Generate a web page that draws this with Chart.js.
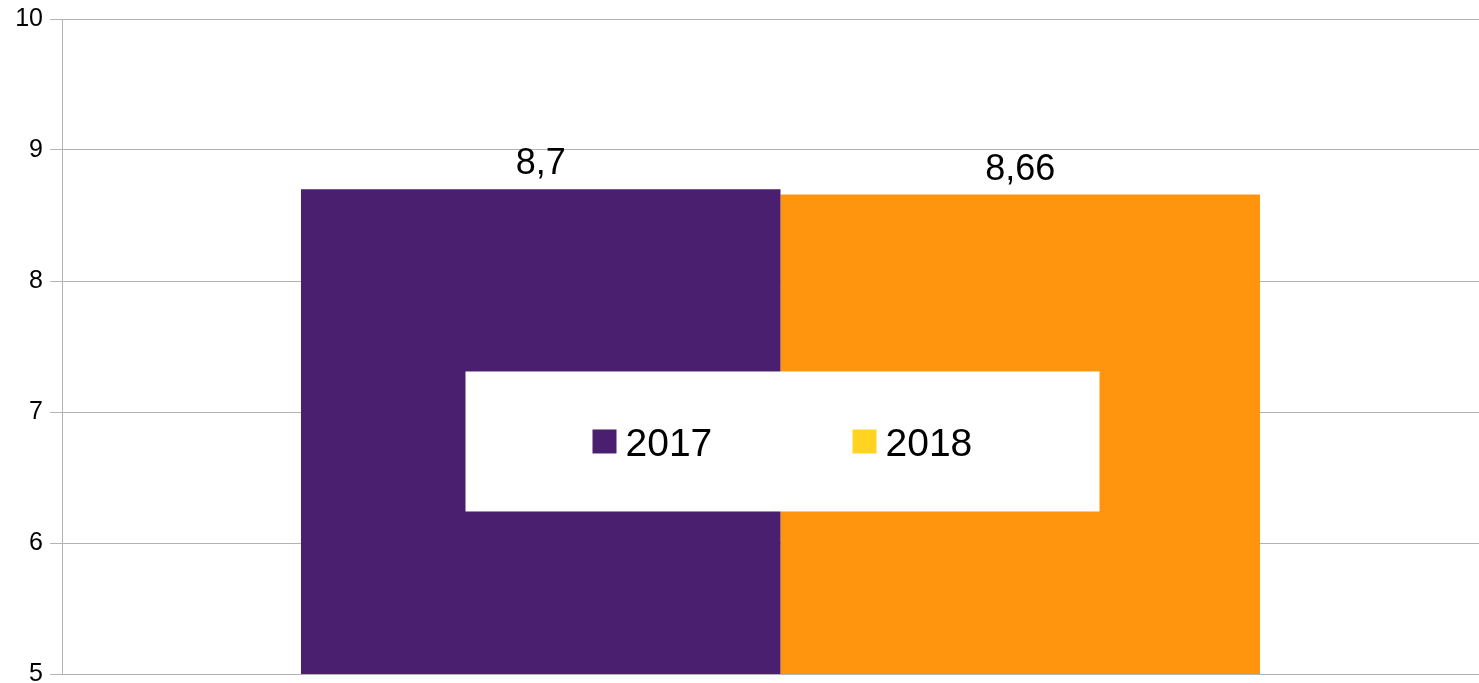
<!DOCTYPE html>
<html>
<head>
<meta charset="utf-8">
<script src="https://cdn.jsdelivr.net/npm/chart.js@4/dist/chart.umd.min.js"></script>
<style>
  html, body { margin: 0; padding: 0; background: #fff; overflow: hidden; }
  #wrap { width: 1479px; height: 683px; overflow: hidden; position: relative; }
  #canvas-1 { display: block; margin-top: -3px; }
</style>
</head>
<body>
<div id="wrap"><canvas id="canvas-1" width="1499" height="699"></canvas></div>
<script>
const categories = [""];
const seriesNames = ["2017", "2018"];
const values2017 = [8.7];
const values2018 = [8.66];
const yTicks = [5, 6, 7, 8, 9, 10];

const barColors = ["#4b1f6f", "#ff950e"];
const legendColors = ["#4b1f6f", "#ffd320"];
const fontFamily = "'Liberation Sans', Arial, sans-serif";

const canvas1 = document.querySelector("#canvas-1");
const ctx1 = canvas1.getContext("2d");

// value labels above the bars, comma decimals
const valueLabels = {
  id: "valueLabels",
  afterDatasetsDraw(chart) {
    const ctx = chart.ctx;
    ctx.save();
    ctx.font = "36px " + fontFamily;
    ctx.fillStyle = "#000";
    ctx.textAlign = "center";
    ctx.textBaseline = "alphabetic";
    chart.data.datasets.forEach((ds, i) => {
      chart.getDatasetMeta(i).data.forEach((bar, j) => {
        const txt = String(ds.data[j]).replace(".", ",");
        ctx.fillText(txt, bar.x, bar.y - 15);
      });
    });
    ctx.restore();
  },
};

// legend box placed inside the plot
const boxLegend = {
  id: "boxLegend",
  afterDraw(chart) {
    const ctx = chart.ctx;
    const area = chart.chartArea;
    const cx = (area.left + area.right) / 2 + 2;
    const cy = area.top + (area.bottom - area.top) * 0.645;
    const w = 634, h = 140;
    const x0 = cx - w / 2, y0 = cy - h / 2;
    ctx.save();
    ctx.fillStyle = "#fff";
    ctx.fillRect(x0, y0, w, h);
    ctx.font = "39px " + fontFamily;
    ctx.textBaseline = "alphabetic";
    ctx.textAlign = "left";
    const itemX = [x0 + 127, x0 + 387];
    seriesNames.forEach((name, i) => {
      ctx.fillStyle = legendColors[i];
      ctx.fillRect(itemX[i], y0 + 58, 24, 24);
      ctx.fillStyle = "#000";
      ctx.fillText(name, itemX[i] + 33, y0 + 85);
    });
    ctx.restore();
  },
};

const barChart = new Chart(ctx1, {
  type: "bar",
  data: {
    labels: categories,
    datasets: [
      {
        label: seriesNames[0],
        data: values2017,
        backgroundColor: barColors[0],
        borderWidth: 0,
      },
      {
        label: seriesNames[1],
        data: values2018,
        backgroundColor: barColors[1],
        borderWidth: 0,
      },
    ],
  },
  options: {
    responsive: false,
    animation: false,
    layout: { padding: { top: 16, bottom: 18, left: 0, right: 0 } },
    datasets: {
      bar: { categoryPercentage: 0.6674, barPercentage: 1 },
    },
    plugins: {
      legend: { display: false },
      tooltip: { enabled: false },
    },
    scales: {
      x: { display: false },
      y: {
        min: 5,
        max: 10,
        afterBuildTicks(scale) {
          scale.ticks = yTicks.map((v) => ({ value: v }));
        },
        afterFit(scale) {
          scale.width = 62;
        },
        ticks: {
          color: "#000",
          font: { family: fontFamily, size: 25 },
          padding: 7,
        },
        grid: {
          color: "#b3b3b3",
          tickLength: 12,
          lineWidth: 1,
        },
        border: { color: "#b3b3b3" },
      },
    },
  },
  plugins: [valueLabels, boxLegend],
});
</script>
</body>
</html>
